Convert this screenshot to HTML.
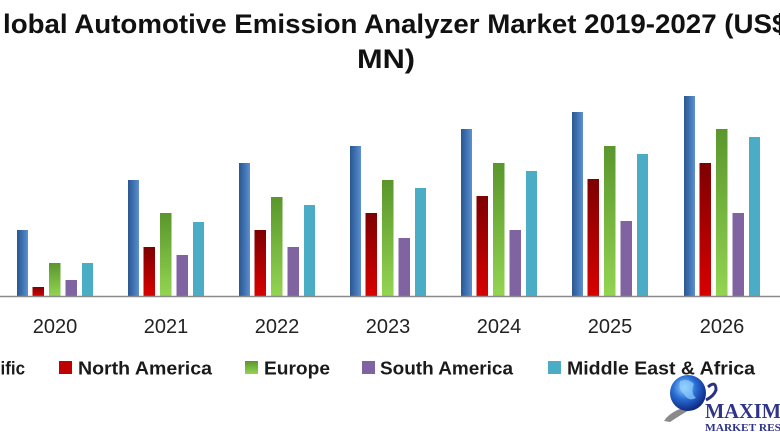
<!DOCTYPE html>
<html><head><meta charset="utf-8"><style>
html,body{margin:0;padding:0;background:#fff;}
svg{display:block;}
</style></head><body>
<svg width="780" height="440" viewBox="0 0 780 440" xmlns="http://www.w3.org/2000/svg" font-family="'Liberation Sans', sans-serif">
<defs>
<linearGradient id="gb" x1="0" y1="0" x2="1" y2="0">
<stop offset="0" stop-color="#2a5690"/><stop offset="0.5" stop-color="#3f72b2"/><stop offset="1" stop-color="#5f90cf"/>
</linearGradient>
<linearGradient id="gr" x1="0" y1="0" x2="0" y2="1">
<stop offset="0" stop-color="#7e0000"/><stop offset="1" stop-color="#d80000"/>
</linearGradient>
<linearGradient id="gg" x1="0" y1="0" x2="0" y2="1">
<stop offset="0" stop-color="#5a962c"/><stop offset="1" stop-color="#93d452"/>
</linearGradient>
<radialGradient id="globe" cx="0.4" cy="0.35" r="0.7">
<stop offset="0" stop-color="#9fd8ff"/><stop offset="0.45" stop-color="#2a6fd6"/><stop offset="1" stop-color="#0a1f78"/>
</radialGradient>
</defs>
<rect width="780" height="440" fill="#fff"/>
<!-- title -->
<g font-weight="bold" font-size="27" fill="#111">
<text x="-24" y="33">G</text>
<text x="3" y="33" textLength="769" lengthAdjust="spacingAndGlyphs">lobal Automotive Emission Analyzer Market 2019-2027 (US</text>
<text x="772" y="33">$</text>
<text x="357" y="68" textLength="58" lengthAdjust="spacingAndGlyphs">MN)</text>
</g>
<!-- bars -->
<g id="bars">
<rect x="17" y="230" width="11" height="66" fill="url(#gb)"/>
<rect x="32.5" y="287" width="11.5" height="9" fill="url(#gr)"/>
<rect x="49" y="263" width="11.5" height="33" fill="url(#gg)"/>
<rect x="65.5" y="280" width="11.5" height="16" fill="#8064a2"/>
<rect x="82" y="263" width="11" height="33" fill="#4bacc6"/>

<rect x="128" y="180" width="11" height="116" fill="url(#gb)"/>
<rect x="143.5" y="247" width="11.5" height="49" fill="url(#gr)"/>
<rect x="160" y="213" width="11.5" height="83" fill="url(#gg)"/>
<rect x="176.5" y="255" width="11.5" height="41" fill="#8064a2"/>
<rect x="193" y="222" width="11" height="74" fill="#4bacc6"/>

<rect x="239" y="163" width="11" height="133" fill="url(#gb)"/>
<rect x="254.5" y="230" width="11.5" height="66" fill="url(#gr)"/>
<rect x="271" y="197" width="11.5" height="99" fill="url(#gg)"/>
<rect x="287.5" y="247" width="11.5" height="49" fill="#8064a2"/>
<rect x="304" y="205" width="11" height="91" fill="#4bacc6"/>

<rect x="350" y="146" width="11" height="150" fill="url(#gb)"/>
<rect x="365.5" y="213" width="11.5" height="83" fill="url(#gr)"/>
<rect x="382" y="180" width="11.5" height="116" fill="url(#gg)"/>
<rect x="398.5" y="238" width="11.5" height="58" fill="#8064a2"/>
<rect x="415" y="188" width="11" height="108" fill="#4bacc6"/>

<rect x="461" y="129" width="11" height="167" fill="url(#gb)"/>
<rect x="476.5" y="196" width="11.5" height="100" fill="url(#gr)"/>
<rect x="493" y="163" width="11.5" height="133" fill="url(#gg)"/>
<rect x="509.5" y="230" width="11.5" height="66" fill="#8064a2"/>
<rect x="526" y="171" width="11" height="125" fill="#4bacc6"/>

<rect x="572" y="112" width="11" height="184" fill="url(#gb)"/>
<rect x="587.5" y="179" width="11.5" height="117" fill="url(#gr)"/>
<rect x="604" y="146" width="11.5" height="150" fill="url(#gg)"/>
<rect x="620.5" y="221" width="11.5" height="75" fill="#8064a2"/>
<rect x="637" y="154" width="11" height="142" fill="#4bacc6"/>

<rect x="684" y="96" width="11" height="200" fill="url(#gb)"/>
<rect x="699.5" y="163" width="11.5" height="133" fill="url(#gr)"/>
<rect x="716" y="129" width="11.5" height="167" fill="url(#gg)"/>
<rect x="732.5" y="213" width="11.5" height="83" fill="#8064a2"/>
<rect x="749" y="137" width="11" height="159" fill="#4bacc6"/>
</g>
<!-- axis -->
<line x1="0" y1="296.5" x2="780" y2="296.5" stroke="#8a8a8a" stroke-width="1.5"/>
<!-- year labels -->
<g font-size="20" fill="#222" text-anchor="middle">
<text x="55" y="333">2020</text>
<text x="166" y="333">2021</text>
<text x="277" y="333">2022</text>
<text x="388" y="333">2023</text>
<text x="499" y="333">2024</text>
<text x="610" y="333">2025</text>
<text x="722" y="333">2026</text>
</g>
<!-- legend -->
<g font-size="18" font-weight="bold" fill="#1a1a1a">
<text x="-70" y="374.5" textLength="95" lengthAdjust="spacingAndGlyphs">Asia Pacific</text>
<rect x="59" y="361" width="13" height="13" fill="#c00000"/>
<text x="78" y="374.5" textLength="134" lengthAdjust="spacingAndGlyphs">North America</text>
<rect x="245" y="361" width="13" height="13" fill="url(#gg)"/>
<text x="264" y="374.5" textLength="66" lengthAdjust="spacingAndGlyphs">Europe</text>
<rect x="362" y="361" width="13" height="13" fill="#8064a2"/>
<text x="380" y="374.5" textLength="133" lengthAdjust="spacingAndGlyphs">South America</text>
<rect x="548" y="361" width="13" height="13" fill="#4bacc6"/>
<text x="567" y="374.5" textLength="188" lengthAdjust="spacingAndGlyphs">Middle East &amp; Africa</text>
</g>
<!-- logo -->
<g>
<path d="M664 421 Q672 408 700 404 Q685 412 670 422 Z" fill="#8a8a8a"/>
<circle cx="688" cy="393" r="18" fill="url(#globe)"/>
<path d="M680 381 Q688 378 694 384 Q690 392 696 398 Q688 402 684 394 Q678 390 680 381 Z" fill="#8fd0ff" opacity="0.7"/>
<path d="M708 387 Q716 380 716 390 Q714 396 706 400" fill="none" stroke="#2b3180" stroke-width="3"/>
<text x="705" y="418" font-family="'Liberation Serif', serif" font-weight="bold" font-size="21" fill="#2f3488" textLength="76" lengthAdjust="spacingAndGlyphs">MAXIM</text>
<text x="705" y="431" font-family="'Liberation Serif', serif" font-weight="bold" font-size="10" fill="#2f3488" textLength="76" lengthAdjust="spacingAndGlyphs">MARKET RES</text>
</g>
</svg>
</body></html>
